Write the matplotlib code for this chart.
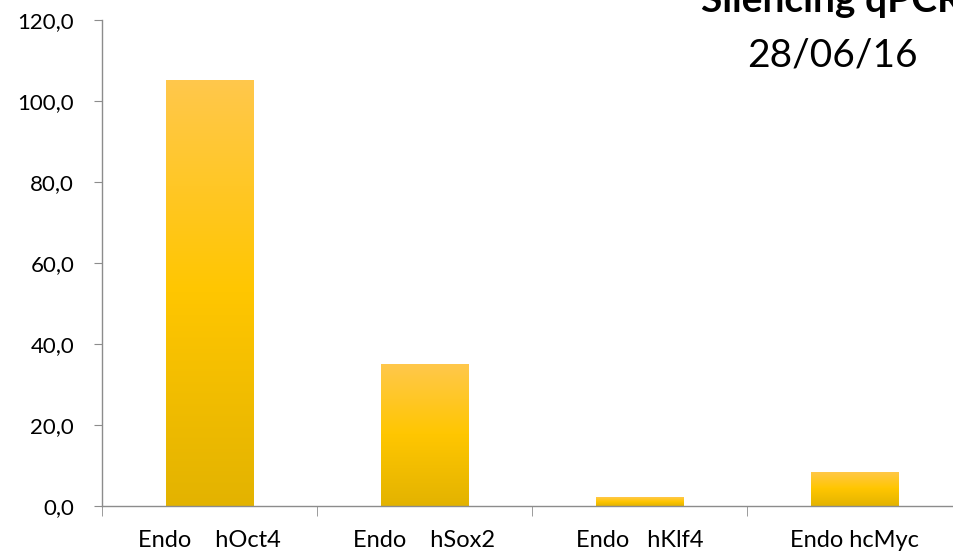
import numpy as np
import matplotlib
matplotlib.use("Agg")
from matplotlib import pyplot as plt
from matplotlib.colors import LinearSegmentedColormap
from matplotlib.ticker import FuncFormatter, FixedLocator

categories = ["Endo    hOct4", "Endo    hSox2", "Endo   hKlf4", "Endo hcMyc"]
values = [105.2, 35.1, 2.2, 8.4]
title = "Silencing qPCR"
subtitle = "28/06/16"

plt.rcParams["font.family"] = ["Lato", "DejaVu Sans"]

fig = plt.figure(figsize=(9.54, 5.57), dpi=100)
ax = fig.add_axes([102 / 954, 1 - 506 / 557, 860 / 954, 486 / 557])

grad = LinearSegmentedColormap.from_list(
    "bar", ["#E3B300", "#FFC600", "#FFC84C"]
)
xs = np.arange(len(values))
bars = ax.bar(xs, values, width=0.405, color="none", zorder=2)
g = np.linspace(0, 1, 256).reshape(-1, 1)
for b in bars:
    x0, w, h = b.get_x(), b.get_width(), b.get_height()
    im = ax.imshow(g, cmap=grad, aspect="auto", origin="lower",
                   extent=[x0, x0 + w, 0, h], zorder=1)
    im.set_clip_path(b)

ax.set_xlim(-0.5, len(values) - 0.5)
ax.set_ylim(0, 120)
ax.yaxis.set_major_locator(FixedLocator(np.arange(0, 121, 20)))
ax.yaxis.set_major_formatter(FuncFormatter(lambda v, p: f"{v:.1f}".replace(".", ",")))

ax.set_xticks(xs)
ax.set_xticklabels(categories)
ax.set_xticks(np.arange(-0.5, len(values)), minor=True)
ax.tick_params(axis="x", which="major", length=0, pad=17, labelsize=17)
ax.tick_params(axis="x", which="minor", length=7, direction="out", color="#8c8c8c")
ax.tick_params(axis="y", length=6, direction="out", color="#8c8c8c", labelsize=16, pad=14)

for s in ["top", "right"]:
    ax.spines[s].set_visible(False)
for s in ["left", "bottom"]:
    ax.spines[s].set_color("#8c8c8c")
    ax.spines[s].set_linewidth(1)

fig.text(832 / 954, 1 - 12 / 557, title, ha="center", va="baseline",
         fontsize=28, fontweight="bold")
fig.text(832 / 954, 1 - 66 / 557, subtitle, ha="center", va="baseline",
         fontsize=28)

fig.savefig("out.png", dpi=100)
